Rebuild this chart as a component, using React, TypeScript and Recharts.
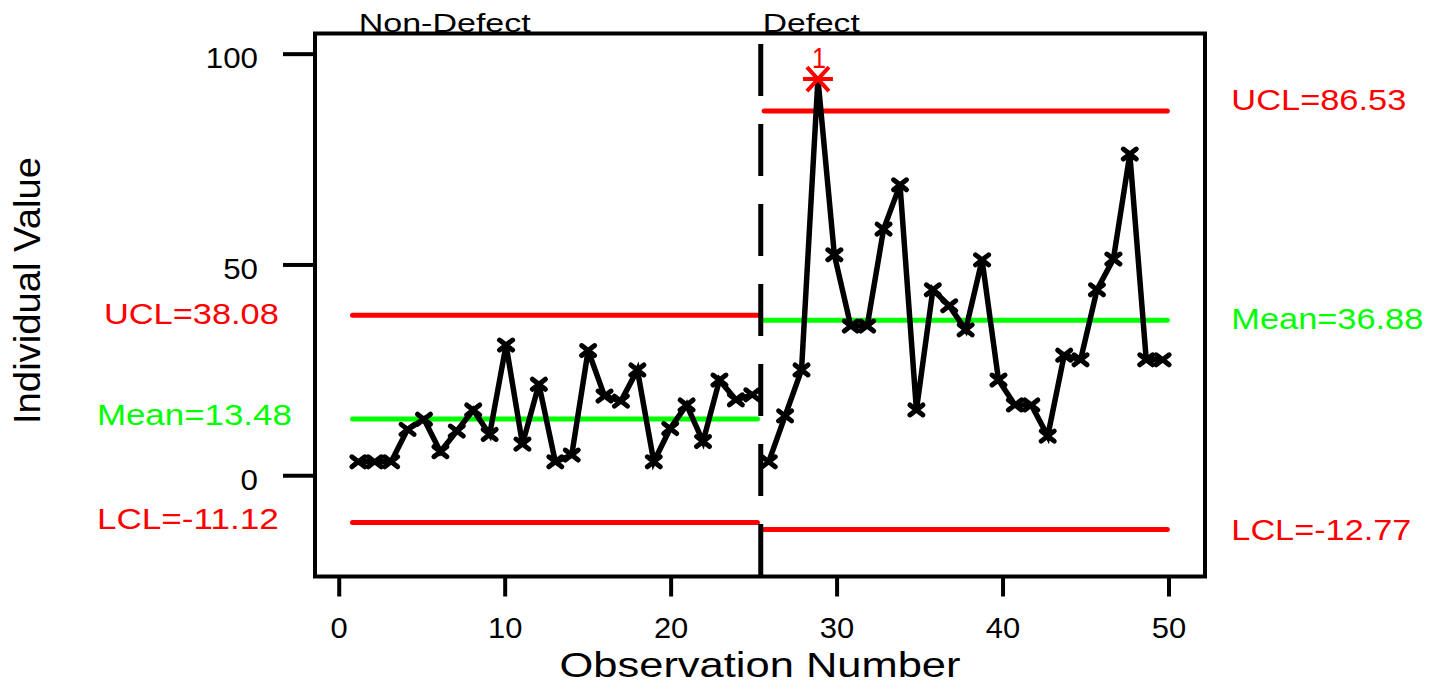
import { LineChart, Line, XAxis, YAxis, ReferenceLine, ReferenceArea } from "recharts"

const FONT = "'Liberation Sans', Arial, sans-serif"

// individual values
const nonDefect = [3.3, 3.3, 3.3, 11.0, 13.4, 5.7, 10.6, 15.6, 9.8, 31.0, 7.5, 21.7, 3.3, 4.9, 29.7, 18.9, 17.7, 25.1, 3.3, 11.2, 16.8, 8.1, 22.7, 18.0, 19.2]
const defect = [3.3, 14.2, 25.1, 94.1, 52.4, 35.5, 35.5, 58.5, 69.0, 15.6, 44.1, 40.3, 34.6, 51.2, 22.7, 16.8, 16.8, 9.4, 28.6, 27.5, 44.1, 51.4, 76.3, 27.5, 27.5]

const phaseNames = ["Non-Defect", "Defect"]
const phaseFrom = [0.8, 25.6]
const phaseTo = [25.2, 49.9]
const ucl = [38.08, 86.53]
const centre = [13.48, 36.88]
const lcl = [-11.12, -12.77]
const divider = 25.4

const xTicks = [0, 10, 20, 30, 40, 50]
const yTicks = [0, 50, 100]

const rows = [
    ...nonDefect.map((v, i) => ({ obs: i + 1, nonDefect: v })),
    ...defect.map((v, i) => ({ obs: nonDefect.length + i + 1, defect: v })),
]

const RED = "#ff0000"
const GREEN = "#00ff00"

// the source renders its text wide, so each string gets stretched to its width
const Txt = ({ x, y, w, size, anchor = "start", fill = "#000", transform, children }: any) => (
    <text
        x={x}
        y={y}
        textLength={w}
        lengthAdjust="spacingAndGlyphs"
        textAnchor={anchor}
        fontSize={size}
        fontFamily={FONT}
        fill={fill}
        transform={transform}
    >
        {children}
    </text>
)

function makeDot(limit: number, name: string) {
    return (p: any) => {
        const { cx, cy, value, index } = p
        const key = `${name}-${index}`
        if (cx == null || cy == null || value == null) return <g key={key} />
        if (value > limit) {
            return (
                <g key={key}>
                    <Txt x={cx + 1} y={cy - 11} w={14} size={30} anchor="middle" fill={RED}>1</Txt>
                    <path
                        d={`M${cx - 15},${cy}H${cx + 15}M${cx - 11},${cy - 12}L${cx + 11},${cy + 12}M${cx - 11},${cy + 12}L${cx + 11},${cy - 12}`}
                        stroke={RED}
                        strokeWidth={4}
                    />
                </g>
            )
        }
        return (
            <path
                key={key}
                d={`M${cx - 6.5},${cy - 5}L${cx + 6.5},${cy + 5}M${cx - 6.5},${cy + 5}L${cx + 6.5},${cy - 5}`}
                stroke="#000"
                strokeWidth={5}
                strokeLinecap="round"
            />
        )
    }
}

// label next to a control line: left of the first phase, right of the second
function ctlLabel(text: string, color: string, side: "left" | "right", dx: number, dy: number, w: number) {
    return (props: any) => {
        const vb = props.viewBox ?? {}
        const x = side === "left" ? vb.x + dx : vb.x + vb.width + dx
        return <Txt x={x} y={vb.y + dy} w={w} size={30} fill={color}>{text}</Txt>
    }
}

const phaseTitles = (props: any) => {
    const vb = props.viewBox ?? {}
    return (
        <g>
            <Txt x={vb.x - 402} y={vb.y - 12} w={172} size={26.5}>{phaseNames[0]}</Txt>
            <Txt x={vb.x + 2} y={vb.y - 12} w={97} size={26.5}>{phaseNames[1]}</Txt>
        </g>
    )
}

const YTick = ({ x, y, payload }: any) => {
    const s = String(payload.value)
    return <Txt x={x} y={y + 14} w={s.length * 17.4} size={29} anchor="end">{s}</Txt>
}

const XTick = ({ x, y, payload }: any) => {
    const s = String(payload.value)
    return <Txt x={x} y={y + 31} w={s.length * 17.2} size={29} anchor="middle">{s}</Txt>
}

const xTitle = (props: any) => {
    const vb = props.viewBox ?? {}
    return <Txt x={vb.x + vb.width / 2} y={vb.y + 100} w={401} size={35} anchor="middle">Observation Number</Txt>
}

const yTitle = (props: any) => {
    const vb = props.viewBox ?? {}
    return (
        <Txt x={0} y={0} w={267} size={36} anchor="middle" transform={`translate(${vb.x - 215},290.5) rotate(-90)`}>
            Individual Value
        </Txt>
    )
}

export default function App() {
    const sides: ("left" | "right")[] = ["left", "right"]
    const uclPos = [[-248.6, 9, 175], [64, -0.5, 175]]
    const meanPos = [[-255.6, 5.6, 195], [64, 8.7, 192]]
    const lclPos = [[-255.6, 6.4, 182], [64, 10.5, 180]]

    return (
        <div style={{ position: "absolute", left: 0, top: 0, width: 1430, height: 683, background: "#fff" }}>
            <LineChart width={1430} height={683} data={rows} margin={{ top: 33.5, right: 225, bottom: 46.5, left: 255 }}>
                <XAxis
                    type="number"
                    dataKey="obs"
                    domain={[-1.46, 52.17]}
                    allowDataOverflow
                    ticks={xTicks}
                    tick={<XTick />}
                    tickSize={20}
                    tickMargin={10}
                    tickLine={{ stroke: "#000", strokeWidth: 4 }}
                    axisLine={false}
                    height={60}
                    label={xTitle}
                />
                {/* points sit on a slightly tighter spacing than the tick marks */}
                <XAxis xAxisId="pts" type="number" dataKey="obs" domain={[-1.64, 52.58]} allowDataOverflow hide />
                <YAxis
                    type="number"
                    domain={[-23.9, 104.9]}
                    allowDataOverflow
                    ticks={yTicks}
                    tick={<YTick />}
                    tickSize={32}
                    tickMargin={25}
                    tickLine={{ stroke: "#000", strokeWidth: 4 }}
                    axisLine={false}
                    width={60}
                    label={yTitle}
                />
                <ReferenceArea x1={-1.46} x2={52.17} y1={-23.9} y2={104.9} fill="none" stroke="#000" strokeWidth={4} ifOverflow="visible" />
                {sides.map((side, i) => (
                    <ReferenceLine
                        key={`ucl${i}`}
                        segment={[{ x: phaseFrom[i], y: ucl[i] }, { x: phaseTo[i], y: ucl[i] }]}
                        stroke={RED}
                        strokeWidth={5}
                        strokeLinecap="round"
                        ifOverflow="visible"
                        label={ctlLabel(`UCL=${ucl[i].toFixed(2)}`, RED, side, uclPos[i][0], uclPos[i][1], uclPos[i][2])}
                    />
                ))}
                {sides.map((side, i) => (
                    <ReferenceLine
                        key={`mean${i}`}
                        segment={[{ x: phaseFrom[i], y: centre[i] }, { x: phaseTo[i], y: centre[i] }]}
                        stroke={GREEN}
                        strokeWidth={5}
                        strokeLinecap="round"
                        ifOverflow="visible"
                        label={ctlLabel(`Mean=${centre[i].toFixed(2)}`, GREEN, side, meanPos[i][0], meanPos[i][1], meanPos[i][2])}
                    />
                ))}
                {sides.map((side, i) => (
                    <ReferenceLine
                        key={`lcl${i}`}
                        segment={[{ x: phaseFrom[i], y: lcl[i] }, { x: phaseTo[i], y: lcl[i] }]}
                        stroke={RED}
                        strokeWidth={5}
                        strokeLinecap="round"
                        ifOverflow="visible"
                        label={ctlLabel(`LCL=${lcl[i].toFixed(2)}`, RED, side, lclPos[i][0], lclPos[i][1], lclPos[i][2])}
                    />
                ))}
                <ReferenceLine
                    segment={[{ x: divider, y: 102.4 }, { x: divider, y: -23.9 }]}
                    stroke="#000"
                    strokeWidth={5}
                    strokeDasharray="52 28"
                    ifOverflow="visible"
                    label={phaseTitles}
                />
                <Line
                    xAxisId="pts"
                    type="linear"
                    dataKey="nonDefect"
                    stroke="#000"
                    strokeWidth={5.5}
                    dot={makeDot(ucl[0], "nd")}
                    activeDot={false}
                    isAnimationActive={false}
                />
                <Line
                    xAxisId="pts"
                    type="linear"
                    dataKey="defect"
                    stroke="#000"
                    strokeWidth={5.5}
                    dot={makeDot(ucl[1], "d")}
                    activeDot={false}
                    isAnimationActive={false}
                />
            </LineChart>
        </div>
    )
}
